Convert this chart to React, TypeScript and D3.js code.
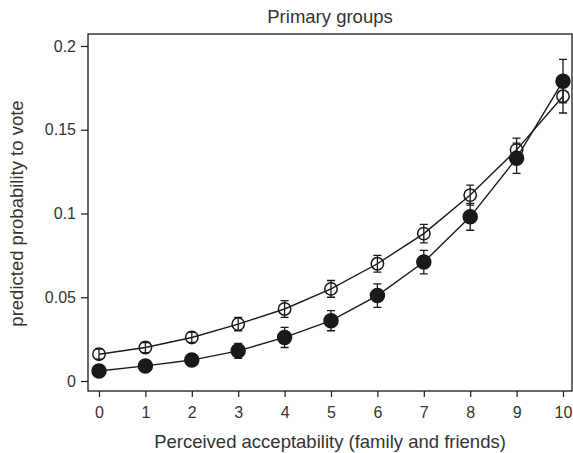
import React, { useEffect, useRef } from 'react'
import * as d3 from 'd3'

// values
const acceptability = [0, 1, 2, 3, 4, 5, 6, 7, 8, 9, 10]
const openValues = [0.016, 0.020, 0.026, 0.034, 0.043, 0.055, 0.070, 0.088, 0.111, 0.138, 0.170]
const openErrors = [0.003, 0.003, 0.003, 0.004, 0.005, 0.005, 0.005, 0.0055, 0.006, 0.007, 0.010]
const filledValues = [0.006, 0.009, 0.0125, 0.018, 0.026, 0.036, 0.051, 0.071, 0.098, 0.133, 0.179]
const filledErrors = [0.002, 0.002, 0.003, 0.0045, 0.006, 0.006, 0.007, 0.007, 0.008, 0.009, 0.013]
const yTicks = [0, 0.05, 0.1, 0.15, 0.2]
const yTickLabels = ['0', '0.05', '0.1', '0.15', '0.2']

const title = 'Primary groups'
const xTitle = 'Perceived acceptability (family and friends)'
const yTitle = 'predicted probability to vote'

export default function App() {
	const ref = useRef<SVGSVGElement>(null)

	const width = 573
	const height = 453
	const box = { left: 88, top: 34, right: 572, bottom: 391 }
	const ink = '#1a1a1a'
	const font = '"Liberation Sans", Arial, sans-serif'

	useEffect(() => {
		const svg = d3.select(ref.current)
		svg.selectAll('*').remove()

		const x = d3.scaleLinear().domain([0, 10]).range([99, 563])
		const y = d3.scaleLinear().domain([0, 0.2]).range([381, 46])

		// frame
		svg.append('rect')
			.attr('x', box.left)
			.attr('y', box.top)
			.attr('width', box.right - box.left)
			.attr('height', box.bottom - box.top)
			.attr('fill', 'none')
			.attr('stroke', ink)
			.attr('stroke-width', 1.3)

		// axes
		const xAxis = svg.append('g')
			.attr('transform', `translate(0, ${box.bottom})`)
			.call(d3.axisBottom(x).tickValues(acceptability).tickSize(6).tickPadding(10).tickFormat(d3.format('d')))
		const yAxis = svg.append('g')
			.attr('transform', `translate(${box.left}, 0)`)
			.call(d3.axisLeft(y).tickValues(yTicks).tickSize(7).tickPadding(5)
				.tickFormat((_: any, i: number) => yTickLabels[i]))
		for (const g of [xAxis, yAxis]) {
			g.select('.domain').remove()
			g.selectAll('line').attr('stroke', ink).attr('stroke-width', 1.2)
			g.selectAll('text')
				.attr('fill', '#333')
				.style('font-family', font)
				.style('font-size', '16px')
		}

		const line = d3.line<number>()
			.x((_, i) => x(acceptability[i]))
			.y(d => y(d))

		const series = [
			{ values: openValues, errors: openErrors, fill: 'none' },
			{ values: filledValues, errors: filledErrors, fill: ink },
		]

		series.forEach(s => {
			svg.append('path')
				.attr('d', line(s.values))
				.attr('fill', 'none')
				.attr('stroke', ink)
				.attr('stroke-width', 1.4)

			const pts = svg.append('g')
				.selectAll('g')
				.data(s.values)
				.enter()
				.append('g')

			// error bars
			pts.append('path')
				.attr('d', (d, i) => {
					const cx = x(acceptability[i])
					const lo = y(d - s.errors[i])
					const hi = y(d + s.errors[i])
					return `M${cx},${lo}V${hi}M${cx - 4},${lo}H${cx + 4}M${cx - 4},${hi}H${cx + 4}`
				})
				.attr('fill', 'none')
				.attr('stroke', ink)
				.attr('stroke-width', 1.3)

			pts.append('circle')
				.attr('cx', (_, i) => x(acceptability[i]))
				.attr('cy', d => y(d))
				.attr('r', s.fill === 'none' ? 6.2 : 7)
				.attr('fill', s.fill)
				.attr('stroke', ink)
				.attr('stroke-width', 1.5)
		})

		// titles
		svg.append('text')
			.attr('x', (box.left + box.right) / 2)
			.attr('y', 23)
			.attr('text-anchor', 'middle')
			.attr('fill', '#333')
			.style('font-family', font)
			.style('font-size', '18.5px')
			.text(title)

		svg.append('text')
			.attr('x', (box.left + box.right) / 2)
			.attr('y', 448)
			.attr('text-anchor', 'middle')
			.attr('fill', '#333')
			.style('font-family', font)
			.style('font-size', '18.5px')
			.text(xTitle)

		svg.append('text')
			.attr('transform', `translate(23, ${(box.top + box.bottom) / 2 + 1}) rotate(-90)`)
			.attr('text-anchor', 'middle')
			.attr('fill', '#333')
			.style('font-family', font)
			.style('font-size', '18.5px')
			.text(yTitle)
	// eslint-disable-next-line react-hooks/exhaustive-deps
	}, [])

	return (
		<svg
			ref={ref}
			width={width}
			height={height}
			style={{ position: 'fixed', left: 0, top: 0, background: '#fff' }}
		/>
	)
}
